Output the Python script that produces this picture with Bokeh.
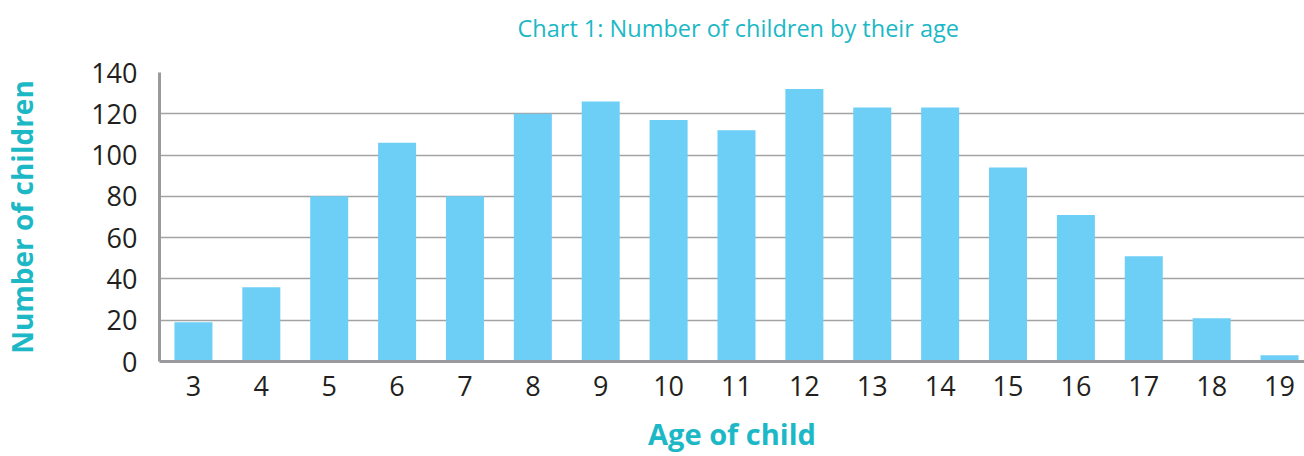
from bokeh.plotting import figure
from bokeh.models import Range1d, FixedTicker, Title
from bokeh.embed import file_html
from bokeh.resources import INLINE

ages = [3, 4, 5, 6, 7, 8, 9, 10, 11, 12, 13, 14, 15, 16, 17, 18, 19]
counts = [19, 36, 80, 106, 80, 120, 126, 117, 112, 132, 123, 123, 94, 71, 51, 21, 3]
y_ticks = [0, 20, 40, 60, 80, 100, 120, 140]

title_text = "Chart 1: Number of children by their age"
x_label = "Age of child"
y_label = "Number of children"

TEAL = "#1cb8c6"
BAR = "#6dcff6"
GRID = "#a3a3a3"
TXT = "#231f20"
FONT = "Open Sans"

p = figure(width=1304, height=456, output_backend="svg", toolbar_location=None,
           x_range=Range1d(2.5, 2.5 + (1304 - 157) / 68.0), y_range=Range1d(0, 140),
           min_border_left=157, min_border_right=0, min_border_top=72, min_border_bottom=95)

p.vbar(x=ages, top=counts, width=0.56, color=BAR, line_color=None)

# spacer (closest to the frame) then the real title above it
spacer = Title(text=" ", text_font_size="1px", standoff=24, text_color="white")
main_title = Title(text=title_text, align="left", offset=358, standoff=4,
                   text_color=TEAL, text_font=FONT, text_font_size="23.5px",
                   text_font_style="normal")
p.add_layout(spacer, "above")
p.add_layout(main_title, "above")

p.outline_line_color = None
p.background_fill_color = "white"
p.border_fill_color = "white"

p.xgrid.grid_line_color = None
p.ygrid.grid_line_color = GRID
p.ygrid.grid_line_width = 1.5
p.ygrid.ticker = FixedTicker(ticks=y_ticks)

p.xaxis.ticker = FixedTicker(ticks=ages)
p.yaxis.ticker = FixedTicker(ticks=y_ticks)
for ax in (p.xaxis, p.yaxis):
    ax.axis_line_color = "#9a9a9e"
    ax.axis_line_width = 3
    ax.major_tick_line_color = None
    ax.minor_tick_line_color = None
    ax.major_tick_out = 0
    ax.major_tick_in = 0
    ax.major_label_text_font = FONT
    ax.major_label_text_font_size = "27px"
    ax.major_label_text_color = TXT
    ax.axis_label_text_font = FONT
    ax.axis_label_text_font_style = "bold"
    ax.axis_label_text_color = TEAL

p.xaxis.axis_label_text_font_size = "29px"
p.yaxis.axis_label_text_font_size = "28px"
p.xaxis.axis_label = x_label
p.yaxis.axis_label = y_label
p.xaxis.major_label_standoff = 14
p.yaxis.major_label_standoff = 22
p.xaxis.axis_label_standoff = 15
p.yaxis.axis_label_standoff = 47

open("out.html", "w").write(file_html(p, INLINE))
